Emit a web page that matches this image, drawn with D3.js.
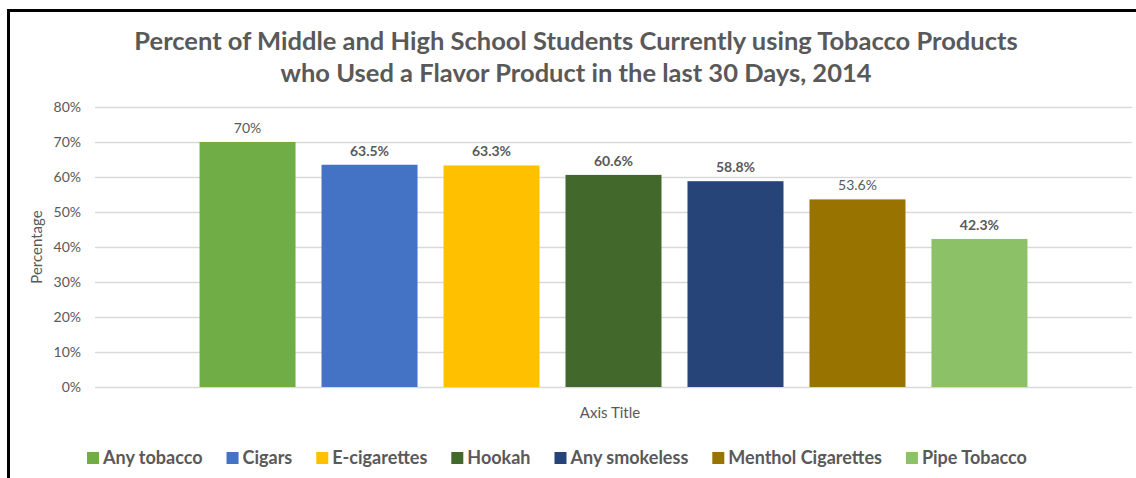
<!DOCTYPE html>
<html>
<head>
<meta charset="utf-8">
<script src="https://cdn.jsdelivr.net/npm/d3@7"></script>
<style>
  body { margin: 0; background: #fff; }
  svg { display: block; }
</style>
</head>
<body>
<svg id="chart"></svg>
<script>
const products = ["Any tobacco", "Cigars", "E-cigarettes", "Hookah", "Any smokeless", "Menthol Cigarettes", "Pipe Tobacco"];
const percents = [70, 63.5, 63.3, 60.6, 58.8, 53.6, 42.3];
const valueLabels = ["70%", "63.5%", "63.3%", "60.6%", "58.8%", "53.6%", "42.3%"];
const boldLabel = [false, true, true, true, true, false, true];
const colors = ["#70ad47", "#4472c4", "#ffc000", "#43682b", "#264478", "#997300", "#8cc168"];
const yTicks = [0, 10, 20, 30, 40, 50, 60, 70, 80];
const titleLines = ["Percent of Middle and High School Students Currently using Tobacco Products",
                    "who Used a Flavor Product in the last 30 Days, 2014"];

const width = 1136, height = 478;
let margin = ({top: 107, right: 4, bottom: 91, left: 95});
const font = "Lato, 'Open Sans', sans-serif";
const grey = "#595959";

const svg = d3.select("#chart").attr("width", width).attr("height", height)
    .style("font-family", font);

// frame (only left and top edges show)
svg.append("path")
    .attr("d", `M8.5,${height}V10.5H${width}`)
    .attr("fill", "none")
    .attr("stroke", "#000")
    .attr("stroke-width", 3);

let x = d3.scaleBand(products, [margin.left, width - margin.right])
    .paddingInner(0.213)
    .paddingOuter(0.857);
let y = d3.scaleLinear([0, 80], [height - margin.bottom, margin.top]);

// title
svg.append("g")
    .attr("fill", grey)
    .attr("font-weight", "bold")
    .attr("font-size", 25.5)
    .attr("text-anchor", "middle")
    .selectAll("text")
    .data(titleLines)
    .join("text")
    .attr("x", 576)
    .attr("y", (d, i) => 50 + i * 32)
    .text(d => d);

// gridlines + y axis
const yAxis = svg.append("g")
    .attr("transform", `translate(${margin.left},0)`)
    .call(d3.axisLeft(y).tickValues(yTicks).tickFormat(d => d + "%").tickSize(0).tickPadding(14))
    .call(g => g.select(".domain").remove());
yAxis.selectAll(".tick line")
    .attr("x2", width - margin.right - margin.left)
    .attr("stroke", "#d9d9d9")
    .attr("stroke-width", 1.3);
yAxis.selectAll(".tick text")
    .attr("fill", grey)
    .attr("font-size", 14)
    .attr("font-family", font);

// bars
svg.append("g")
    .selectAll("rect")
    .data(products)
    .join("rect")
    .attr("x", d => x(d))
    .attr("width", x.bandwidth())
    .attr("y", (d, i) => y(percents[i]))
    .attr("height", (d, i) => y(0) - y(percents[i]))
    .attr("fill", (d, i) => colors[i]);

// value labels
svg.append("g")
    .attr("fill", grey)
    .attr("font-size", 14)
    .attr("text-anchor", "middle")
    .selectAll("text")
    .data(products)
    .join("text")
    .attr("x", d => x(d) + x.bandwidth() / 2)
    .attr("y", (d, i) => y(percents[i]) - 9)
    .attr("font-weight", (d, i) => boldLabel[i] ? "bold" : "normal")
    .text((d, i) => valueLabels[i]);

// axis titles
svg.append("text")
    .attr("transform", `translate(42,${(y(0) + y(80)) / 2}) rotate(-90)`)
    .attr("text-anchor", "middle")
    .attr("fill", grey)
    .attr("font-size", 15)
    .text("Percentage");

svg.append("text")
    .attr("x", 610)
    .attr("y", 418)
    .attr("text-anchor", "middle")
    .attr("fill", grey)
    .attr("font-size", 15)
    .text("Axis Title");

// legend
const legend = svg.append("g")
    .attr("font-size", 18)
    .attr("font-weight", "bold")
    .attr("fill", grey);
const items = legend.selectAll("g")
    .data(products)
    .join("g");
items.append("rect")
    .attr("width", 12)
    .attr("height", 12)
    .attr("y", -6)
    .attr("fill", (d, i) => colors[i]);
items.append("text")
    .attr("x", 16)
    .attr("dy", "0.35em")
    .text(d => d);

const gap = 24;
let pos = 0;
const offsets = [];
items.each(function () {
    offsets.push(pos);
    pos += 16 + d3.select(this).select("text").node().getComputedTextLength() + gap;
});
const total = pos - gap;
const startX = 557 - total / 2;
items.attr("transform", (d, i) => `translate(${startX + offsets[i]},458)`);
</script>
</body>
</html>
